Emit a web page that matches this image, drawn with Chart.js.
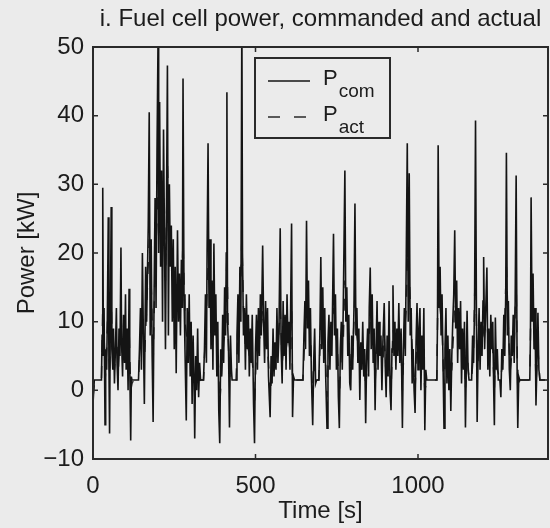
<!DOCTYPE html>
<html>
<head>
<meta charset="utf-8">
<script src="https://cdn.jsdelivr.net/npm/chart.js@4.4.1/dist/chart.umd.min.js"></script>
<style>
  html, body { margin: 0; padding: 0; background: #ebebeb; }
  canvas { display: block; }
</style>
</head>
<body>
<canvas id="fcPower" width="550" height="528"></canvas>
<script>
// [time s, power kW]
const comPoints = [
  [0,-2],[4,1.5],[26,1.5],[28,8],[30,29.5],[32,5],[34,12],[37,-5],[39,6],[42,3],[44,10],[47,25.2],[49,4],[51,-6.3],[53,8],[56,26.7],[58,6],[61,3],[63,9],[66,1],[69,6],[72,12],[74,4],[77,0],[80,9],[83,5],[86,20.8],[88,7],[91,2],[94,11],[97,4],[100,14],[102,3],[105,9],[108,0],[111,14.8],[113,4],[116,-7.3],[118,2],[120,1.5],[140,1.5],
  [143,6],[146,12],[149,3],[152,20],[155,8],[158,-2],[162,18],[165,10],[170,24],[173,40.5],[176,8],[179,22],[182,5],[185,-4.6],[188,14],[191,28],[194,12],[197,35],[200,50.5],[202,20],[205,42],[208,18],[211,32],[214,10],[217,38],[220,22],[223,6],[226,26],[229,47.3],[232,8],[235,30],[238,18],[241,24],[244,10],[247,22],[250,6],[253,18],[256,2.5],[260,23.3],[263,10],[266,17],[269,8],[272,19],[275,12],[277,45.4],[280,14],[283,6],[287,-4.4],[290,12],[293,4],[296,14],[299,2],[302,10],[305,-2],[308,8],[311,1],[313,-7],[316,5],[319,0],[322,9],[325,-1],[328,4],[331,1.5],[340,1.5],
  [343,6],[346,14],[349,4],[351,20],[354,36],[357,12],[360,22],[363,6],[366,16],[369,3],[372,21.4],[375,8],[378,14],[381,2],[384,10],[387,-3],[390,-7.7],[393,6],[396,2],[399,11],[402,4],[405,15],[408,8],[410,20],[412,43.4],[414,10],[417,6],[420,-5.4],[423,8],[426,3],[428,1.5],[440,1.5],[443,8],[446,14],[449,4],[452,18],[455,10],[458,55],[460,20],[463,8],
  [466,12],[469,3],[472,14],[475,6],[478,11],[481,2],[484,9],[487,4],[490,11],[494,-2],[497,-7.7],[500,6],[503,11],[506,3],[509,12],[512,5],[515,14],[518,8],[522,21.1],[525,10],[528,4],[531,13],[534,6],[537,12],[540,2],[545,-3.9],[548,5],[551,1],[554,9],[557,2],[560,7],[563,3],[566,12],[569,4],[572,8],[576,23.6],[579,6],[582,1],[585,13],[588,5],[591,11],[594,3],[597,14],[600,7],[603,10],[606,3],[611,24.3],[614,-3.9],[617,2],[620,1.5],[646,1.5],[649,8],[652,13],[654,6],[657,24.7],[660,9],[663,16],[666,5],[669,12],[672,2],[676,-5.1],[679,4],[682,9],[685,1],[688,1.5],[695,1.5],
  [698,8],[701,19.4],[704,6],[707,15],[710,4],[713,12],[716,2],[720,-5.5],[723,7],[726,11],[729,3],[732,10],[735,5],[740,22.8],[743,8],[746,14],[749,3],[752,9],[755,-1],[758,-5.5],[761,6],[764,10],[767,3],[770,12],[775,32],[778,10],[781,15],[784,5],[787,11],[790,1],[793,0],[796,8],[799,3],[803,12],[806,27.2],[809,8],[812,12],[815,4],[818,9],[821,-1.4],[824,7],[827,3],[830,10],[833,2],[836,6],[839,-4.8],[842,5],[845,9],[848,2],[850,12],[853,17.9],[856,6],[859,14],[862,4],[865,9],[868,-2.9],[871,6],[874,13],[877,3],[880,10],[883,5],[886,8],[889,0],[892,7],[896,12.7],[899,4],[902,-1],[905,8],[908,2],[911,13],[914,0],[917,-2.9],
  [920,6],[923,15.3],[926,5],[929,10],[932,3],[935,9],[938,5],[941,12.7],[944,4],[948,9],[952,-5.5],[955,6],[958,12],[961,5],[964,20],[967,36],[970,10],[973,31.6],[976,8],[979,12],[982,1],[985,6],[988,0],[991,-3.3],[994,7],[997,12.7],[1000,3],[1003,9],[1006,12],[1009,0],[1012,8],[1015,3],[1018,12],[1021,-5.8],[1024,3],[1027,1.5],[1058,1.5],[1060,10],[1062,35.7],[1065,12],[1068,18],[1071,8],[1074,14],[1077,4],[1080,-5.5],[1083,6],[1086,12],[1089,1],[1092,8],[1095,0],[1098,6],[1101,-3],[1104,5],[1107,10],[1110,14],[1113,23.3],[1116,9],[1119,16],[1122,4],[1125,12],[1128,6],[1131,13],[1134,1],[1137,9],[1140,3],[1143,10],[1146,-5.4],[1149,5],[1151,11.6],[1154,3],[1157,1.5],[1165,1.5],
  [1168,8],[1171,4],[1174,12],[1177,39.3],[1180,9],[1182,-4.6],[1185,6],[1188,12],[1191,3],[1194,10],[1197,5],[1200,13],[1202,19.4],[1205,6],[1208,11],[1212,17.9],[1215,3],[1218,9],[1221,2],[1224,11],[1227,6],[1230,10],[1233,0],[1235,-5.1],[1238,10.6],[1241,3],[1244,6],[1247,1.5],[1252,1.5],[1255,-1],[1258,6],[1261,3],[1264,11],[1267,5],[1270,14],[1272,34.6],[1275,8],[1278,13],[1281,3],[1284,0],[1287,8],[1290,5],[1293,11],[1296,4],[1299,13],[1302,31.3],[1305,3],[1307,-5.5],[1310,2],[1313,1.5],[1344,1.5],[1346,8],[1348,28.1],[1351,10],[1354,17],[1357,6],[1360,12],[1363,-2.2],[1366,4],[1369,11.3],[1372,3],[1375,1.5],[1400,1.5]
];

const actPoints = [
  [0,-1],[5,1.5],[26,1.5],[30,12],[34,8],[38,2],[42,6],[47,14],[51,2],[56,13],[60,6],[66,3],[72,8],[78,3],[86,11],[91,5],[97,7],[103,5],[111,9],[116,0],[120,1],[125,1.5],[140,1.5],
  [146,8],[152,12],[158,4],[165,12],[173,22],[180,14],[185,4],[191,18],[197,25],[202,35],[206,30],[211,24],[217,28],[223,16],[229,33],[235,22],[241,18],[247,15],[253,12],[260,15],[266,12],[272,13],[277,22],[283,10],[290,7],[296,8],[302,5],[308,3],[313,0],[319,2],[325,1],[331,1.5],[340,1.5],
  [346,8],[354,18],[360,14],[366,10],[372,12],[378,9],[384,6],[390,-2],[396,3],[402,7],[408,9],[412,20],[417,6],[422,1],[428,1.5],[440,1.5],[446,8],[452,11],[458,22],[463,12],
  [469,6],[475,7],[481,5],[487,6],[494,2],[497,-2],[503,6],[509,7],[515,8],[522,12],[528,7],[534,8],[540,4],[545,-1],[551,3],[557,4],[563,5],[569,6],[576,12],[582,4],[588,7],[594,6],[600,8],[606,6],[611,12],[614,1],[620,1.5],[646,1.5],[652,8],[657,13],[663,10],[669,8],[676,-1],[682,4],[688,1.5],[695,1.5],
  [701,10],[707,9],[713,7],[720,-1],[726,7],[732,6],[740,12],[746,9],[752,6],[758,-1],[764,6],[770,7],[775,16],[781,10],[787,8],[793,3],[799,5],[806,14],[812,8],[818,6],[824,3],[830,6],[836,4],[839,0],[845,5],[850,8],[853,10],[859,9],[865,6],[868,1],[874,8],[880,7],[886,6],[892,4],[896,8],[902,2],[908,5],[914,3],[917,0],
  [923,9],[929,7],[935,6],[941,8],[948,6],[952,0],[958,8],[964,12],[967,20],[973,17],[979,9],[985,4],[991,0],[997,8],[1003,7],[1009,4],[1015,6],[1021,0],[1027,1.5],[1058,1.5],[1062,18],[1068,12],[1074,9],[1080,0],[1086,7],[1092,5],[1098,3],[1104,3],[1110,9],[1113,13],[1119,11],[1125,8],[1131,9],[1137,6],[1143,6],[1146,0],[1151,6],[1157,1.5],[1165,1.5],
  [1171,6],[1177,20],[1182,2],[1188,7],[1194,7],[1200,8],[1205,10],[1212,10],[1218,6],[1224,7],[1230,6],[1235,0],[1238,6],[1244,3],[1252,1.5],[1258,3],[1264,6],[1272,18],[1278,9],[1284,3],[1290,6],[1296,7],[1302,16],[1307,0],[1313,1.5],[1344,1.5],[1348,15],[1354,11],[1360,8],[1363,1],[1369,6],[1375,1.5],[1400,1.5]
];

const seriesNames = ['P_com', 'P_act'];
const xTicks = [0, 500, 1000];
const yTicks = [-10, 0, 10, 20, 30, 40, 50];

const ink = '#1c1c1c';
const bg = '#ebebeb';
const fontFamily = '"Liberation Sans", Arial, Helvetica, sans-serif';

// MATLAB-like box, inward ticks and legend with subscripts
const matlabFrame = {
    id: 'matlabFrame',
    beforeDraw(chart) {
        const ctx = chart.ctx;
        ctx.save();
        ctx.fillStyle = bg;
        ctx.fillRect(0, 0, chart.width, chart.height);
        ctx.restore();
    },
    afterDatasetsDraw(chart) {
        const {ctx, chartArea: a, scales: {x, y}} = chart;
        ctx.save();
        ctx.strokeStyle = '#2a2a2a';
        ctx.lineWidth = 2;
        ctx.strokeRect(a.left, a.top, a.right - a.left, a.bottom - a.top);

        ctx.lineWidth = 1.5;
        ctx.beginPath();
        yTicks.forEach(v => {
            const py = y.getPixelForValue(v);
            ctx.moveTo(a.left, py); ctx.lineTo(a.left + 5, py);
            ctx.moveTo(a.right, py); ctx.lineTo(a.right - 5, py);
        });
        xTicks.forEach(v => {
            const px = x.getPixelForValue(v);
            ctx.moveTo(px, a.bottom); ctx.lineTo(px, a.bottom - 5);
            ctx.moveTo(px, a.top); ctx.lineTo(px, a.top + 5);
        });
        ctx.stroke();

        // legend box
        const lx = a.left + 162, ly = a.top + 11, lw = 135, lh = 80;
        ctx.fillStyle = bg;
        ctx.fillRect(lx, ly, lw, lh);
        ctx.lineWidth = 2;
        ctx.strokeStyle = '#2a2a2a';
        ctx.strokeRect(lx, ly, lw, lh);

        chart.data.datasets.forEach((ds, i) => {
            const rowY = ly + 23 + i * 36;
            ctx.beginPath();
            ctx.strokeStyle = ds.borderColor;
            ctx.lineWidth = 1.5;
            ctx.setLineDash(ds.borderDash || []);
            ctx.moveTo(lx + 13, rowY);
            ctx.lineTo(lx + 55, rowY);
            ctx.stroke();
            ctx.setLineDash([]);

            const [main, sub] = ds.label.split('_');
            ctx.fillStyle = ink;
            ctx.textBaseline = 'alphabetic';
            ctx.textAlign = 'left';
            ctx.font = '22px ' + fontFamily;
            ctx.fillText(main, lx + 68, rowY + 4);
            const mw = ctx.measureText(main).width;
            ctx.font = '19px ' + fontFamily;
            ctx.fillText(sub, lx + 68 + mw + 1, rowY + 16);
        });
        ctx.restore();
    }
};

const ctx = document.getElementById('fcPower').getContext('2d');
const fcChart = new Chart(ctx, {
    type: 'line',
    data: {
        datasets: [{
            label: seriesNames[0],
            data: comPoints.map(p => ({x: p[0], y: p[1]})),
            borderColor: '#141414',
            borderWidth: 1.6,
            pointRadius: 0,
            tension: 0
        }, {
            label: seriesNames[1],
            data: actPoints.map(p => ({x: p[0], y: p[1]})),
            borderColor: '#2a2a2a',
            borderWidth: 1.5,
            borderDash: [12, 14],
            pointRadius: 0,
            tension: 0
        }]
    },
    options: {
        responsive: false,
        animation: false,
        devicePixelRatio: 1,
        layout: { padding: { top: 0, right: 2, bottom: 0, left: 0 } },
        plugins: {
            legend: { display: false },
            tooltip: { enabled: false },
            title: {
                display: true,
                text: 'i. Fuel cell power, commanded and actual',
                fullSize: false,
                color: ink,
                font: { family: fontFamily, size: 24, weight: 'normal', lineHeight: 1.2 },
                padding: { top: 5, bottom: 13.2 }
            }
        },
        scales: {
            x: {
                type: 'linear',
                min: 0,
                max: 1400,
                afterBuildTicks: scale => { scale.ticks = xTicks.map(v => ({value: v})); },
                afterFit: scale => { scale.height = 69; },
                grid: { display: false, drawTicks: false },
                border: { display: false },
                ticks: {
                    color: ink,
                    padding: 13,
                    maxRotation: 0,
                    font: { family: fontFamily, size: 24 },
                    callback: v => String(v)
                },
                title: {
                    display: true,
                    text: 'Time [s]',
                    color: ink,
                    font: { family: fontFamily, size: 24, lineHeight: 1.2 },
                    padding: { top: 0, bottom: 2 }
                }
            },
            y: {
                min: -10,
                max: 50,
                afterBuildTicks: scale => { scale.ticks = yTicks.map(v => ({value: v})); },
                afterFit: scale => { scale.width = 93; },
                grid: { display: false, drawTicks: false },
                border: { display: false },
                ticks: {
                    color: ink,
                    padding: 9,
                    font: { family: fontFamily, size: 24 },
                    callback: v => (v < 0 ? '\u2212' + Math.abs(v) : String(v))
                },
                title: {
                    display: true,
                    text: 'Power [kW]',
                    color: ink,
                    font: { family: fontFamily, size: 24, lineHeight: 1.2 },
                    padding: { top: 13, bottom: 0 }
                }
            }
        }
    },
    plugins: [matlabFrame]
});
</script>
</body>
</html>
